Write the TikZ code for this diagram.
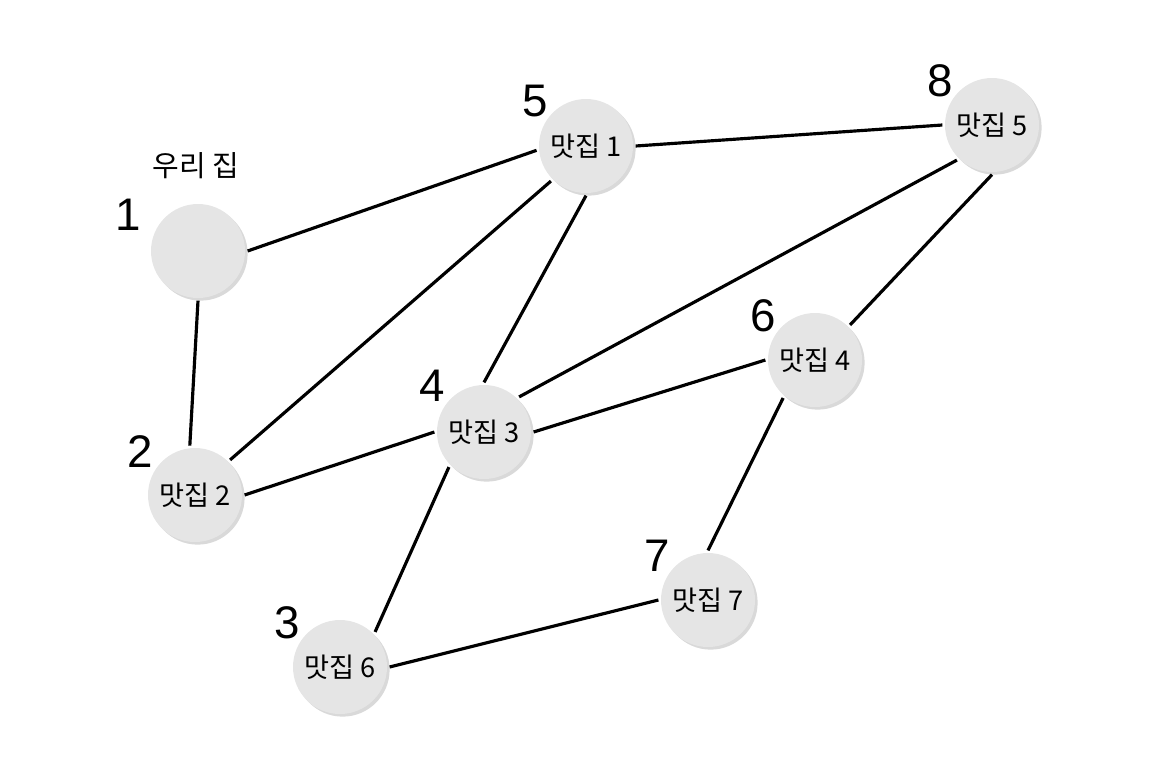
\documentclass[tikz,border=0pt]{standalone}
\usepackage{fontspec}
\setmainfont{Liberation Sans}
\newfontfamily\kofont{Noto Sans CJK KR}
\usepackage{tikz}
\usetikzlibrary{positioning,shadows}

\begin{document}
\begin{tikzpicture}[
  x=0.02cm,y=-0.02cm,
  spot/.style={circle,fill=black!10,minimum size=1.88cm,inner sep=0pt,outer sep=1.5pt,
    font=\kofont\fontsize{15.5}{17}\selectfont,
    drop shadow={opacity=0.3,shadow xshift=1.5pt,shadow yshift=-1.5pt}},
  num/.style={font=\fontsize{26}{28}\selectfont},
  line/.style={-,line width=1.8pt}
]
\useasboundingbox (0,0) rectangle (1153,768);
\node[spot] (home) at (198,251) {};
\node[spot] (m2) at (195,495) {맛집 2};
\node[spot] (m6) at (340,667) {맛집 6};
\node[spot] (m3) at (484,432) {맛집 3};
\node[spot] (m1) at (586,146) {맛집 1};
\node[spot] (m4) at (815,360) {맛집 4};
\node[spot] (m7) at (708,600) {맛집 7};
\node[spot] (m5) at (992,125) {맛집 5};
\node[font=\kofont\fontsize{16.5}{18}\selectfont] (hlab) at (196,166) {우리 집};

\node[num] (n1) at (128,215) {1};
\node[num] (n2) at (140,452) {2};
\node[num] (n3) at (287,623) {3};
\node[num] (n4) at (432,386) {4};
\node[num] (n5) at (535,101) {5};
\node[num] (n6) at (763,316) {6};
\node[num] (n7) at (657,556) {7};
\node[num] (n8) at (940,81) {8};

\draw[line] (home.east) -- (m1.185);
\draw[line] (home.south) -- (m2.96);
\draw[line] (m2.north east) -- (m1.south west);
\draw[line] (m2.east) -- (m3.west);
\draw[line] (m1.south) -- (m3.north);
\draw[line] (m1.east) -- (m5.west);
\draw[line] (m3.north east) -- (m5.south west);
\draw[line] (m3.east) -- (m4.west);
\draw[line] (m4.north east) -- (m5.south);
\draw[line] (m3.south west) -- (m6.north east);
\draw[line] (m4.230) -- (m7.north);
\draw[line] (m6.east) -- (m7.west);
\end{tikzpicture}
\end{document}
